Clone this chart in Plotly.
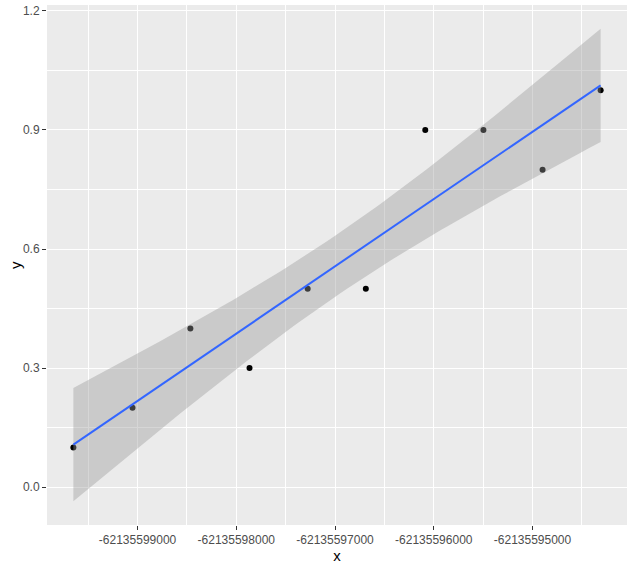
import numpy as np
import plotly.graph_objects as go

x_vals = [-62135599650, -62135599051, -62135598465, -62135597866, -62135597277,
          -62135596688, -62135596086, -62135595497, -62135594898, -62135594310]
y_vals = [0.1, 0.2, 0.4, 0.3, 0.5, 0.5, 0.9, 0.9, 0.8, 1.0]

x_tick_vals = [-62135599000, -62135598000, -62135597000, -62135596000, -62135595000]
x_tick_text = ["-62135599000", "-62135598000", "-62135597000", "-62135596000", "-62135595000"]
y_tick_vals = [0.0, 0.3, 0.6, 0.9, 1.2]
y_tick_text = ["0.0", "0.3", "0.6", "0.9", "1.2"]

# linear model + 95% confidence band (like geom_smooth(method="lm"))
x = np.array(x_vals, dtype=float)
y = np.array(y_vals, dtype=float)
xc = x - x.mean()
n = len(x)
b1 = np.sum(xc * (y - y.mean())) / np.sum(xc ** 2)
b0 = y.mean()
resid = y - (b0 + b1 * xc)
s = np.sqrt(np.sum(resid ** 2) / (n - 2))
tq = 2.306004135  # qt(0.975, 8)
gx = np.linspace(x.min(), x.max(), 80)
gxc = gx - x.mean()
fit = b0 + b1 * gxc
se = s * np.sqrt(1.0 / n + gxc ** 2 / np.sum(xc ** 2))
lo = fit - tq * se
hi = fit + tq * se

xr = x.max() - x.min()
xrange = [x.min() - 0.05 * xr, x.max() + 0.05 * xr]
ymin = min(lo.min(), y.min())
ymax = max(hi.max(), y.max())
yr = ymax - ymin
yrange = [ymin - 0.05 * yr, ymax + 0.05 * yr]

fig = go.Figure()
fig.add_trace(go.Scatter(x=x_vals, y=y_vals, mode="markers",
                         marker=dict(color="black", size=6), showlegend=False))
fig.add_trace(go.Scatter(x=gx, y=lo, mode="lines", line=dict(width=0),
                         showlegend=False, hoverinfo="skip"))
fig.add_trace(go.Scatter(x=gx, y=hi, mode="lines", line=dict(width=0),
                         fill="tonexty", fillcolor="rgba(153,153,153,0.4)",
                         showlegend=False, hoverinfo="skip"))
fig.add_trace(go.Scatter(x=gx, y=fit, mode="lines",
                         line=dict(color="#3366FF", width=2), showlegend=False))

axis_common = dict(
    showgrid=True, gridcolor="white", gridwidth=1.1,
    zeroline=False, showline=False, automargin=False,
    ticks="outside", ticklen=4, tickwidth=1, tickcolor="#333333",
    tickfont=dict(family="Liberation Sans, Arial", size=12, color="#4D4D4D"),
    title_font=dict(family="Liberation Sans, Arial", size=15, color="black"),
)

fig.update_xaxes(range=xrange, tickmode="array", tickvals=x_tick_vals, ticktext=x_tick_text,
                 minor=dict(tickmode="array",
                            tickvals=[(a + b) / 2 for a, b in zip(x_tick_vals[:-1], x_tick_vals[1:])]
                            + [x_tick_vals[0] - 500, x_tick_vals[-1] + 500],
                            showgrid=True, gridcolor="white", gridwidth=0.55, ticks=""),
                 title=dict(text="x", standoff=3), **axis_common)
fig.update_yaxes(range=yrange, tickmode="array", tickvals=y_tick_vals, ticktext=y_tick_text,
                 minor=dict(tickmode="array",
                            tickvals=[(a + b) / 2 for a, b in zip(y_tick_vals[:-1], y_tick_vals[1:])],
                            showgrid=True, gridcolor="white", gridwidth=0.55, ticks=""),
                 **axis_common)

fig.add_annotation(text="y", xref="paper", yref="paper", x=0, y=0.5,
                   xanchor="center", yanchor="middle", xshift=-32, textangle=-90,
                   showarrow=False, font=dict(family="Liberation Sans, Arial", size=15, color="black"))

fig.update_layout(
    width=633, height=564,
    margin=dict(l=47, r=6, t=5, b=39),
    paper_bgcolor="white", plot_bgcolor="#EBEBEB",
    font=dict(family="Liberation Sans, Arial"),
)

fig.write_html("out.html")
